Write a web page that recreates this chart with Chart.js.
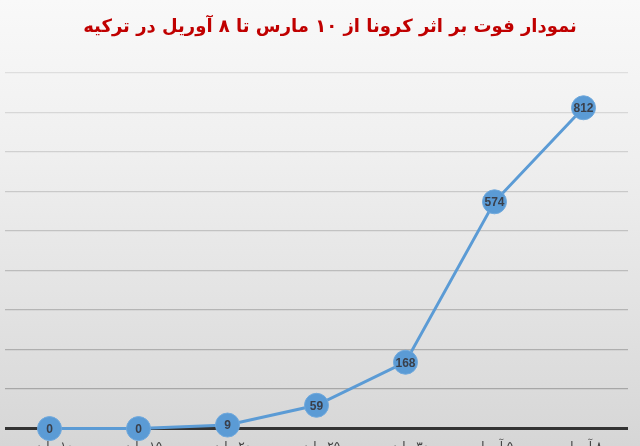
<!DOCTYPE html>
<html>
<head>
<meta charset="utf-8">
<script src="https://cdn.jsdelivr.net/npm/chart.js@4/dist/chart.umd.min.js"></script>
<style>
html,body{margin:0;padding:0;width:640px;height:446px;overflow:hidden;
background:linear-gradient(to bottom,#f9f9f9 0%,#efefef 35%,#e2e2e2 70%,#d6d6d6 100%);}
#wrap{position:absolute;left:0;top:0;width:640px;height:465px;}
</style>
</head>
<body>
<div id="wrap"><canvas id="c" dir="rtl"></canvas></div>
<script>
const titleText = 'نمودار فوت بر اثر کرونا از ۱۰ مارس تا ۸ آوریل در ترکیه';
const categories = ['۱۰ مارس','۱۵ مارس','۲۰ مارس','۲۵ مارس','۳۰ مارس','۵ آوریل','۸ آوریل'];
const deaths = [0, 0, 9, 59, 168, 574, 812];
const yMin = 0, yMax = 900, yStep = 100;

const titlePlugin = {
  id: 'titlePlugin',
  afterDraw(chart) {
    const ctx = chart.ctx;
    ctx.save();
    ctx.font = 'bold 18px "DejaVu Sans", sans-serif';
    ctx.fillStyle = '#c00000';
    ctx.textAlign = 'center';
    ctx.textBaseline = 'middle';
    ctx.fillText(titleText, 330, 27);
    ctx.restore();
  }
};

const valueLabels = {
  id: 'valueLabels',
  afterDatasetsDraw(chart) {
    const ctx = chart.ctx;
    const meta = chart.getDatasetMeta(0);
    ctx.save();
    ctx.font = 'bold 12px "Liberation Sans", Arial, sans-serif';
    ctx.fillStyle = '#3a3f4a';
    ctx.textAlign = 'center';
    ctx.textBaseline = 'middle';
    ctx.direction = 'ltr';
    meta.data.forEach((pt, i) => {
      ctx.fillText(String(deaths[i]), pt.x, pt.y + 1);
    });
    ctx.restore();
  }
};

new Chart(document.getElementById('c'), {
  type: 'line',
  data: {
    labels: categories,
    datasets: [{
      data: deaths,
      borderColor: '#5b9bd5',
      borderWidth: 3,
      backgroundColor: '#5b9bd5',
      pointBackgroundColor: '#5b9bd5',
      pointBorderColor: '#6fa8dc',
      pointBorderWidth: 1,
      pointRadius: 12,
      pointHoverRadius: 12,
      tension: 0,
      clip: false
    }]
  },
  options: {
    responsive: true,
    maintainAspectRatio: false,
    animation: false,
    layout: { autoPadding: false, padding: { left: 5, right: 12, top: 73, bottom: 0 } },
    plugins: {
      legend: { display: false },
      tooltip: { enabled: false },
      title: { display: false }
    },
    scales: {
      x: {
        offset: true,
        afterFit: (s) => { s.paddingLeft = 0; s.paddingRight = 0; },
        grid: { display: false, drawTicks: false },
        border: { display: false },
        ticks: {
          color: '#404040',
          font: { family: '"DejaVu Sans", sans-serif', size: 12 },
          padding: 11,
          maxRotation: 0,
          autoSkip: false
        }
      },
      y: {
        min: yMin,
        max: yMax,
        afterFit: (s) => { s.width = 0; s.paddingTop = 0; s.paddingBottom = 0; },
        ticks: { display: false, stepSize: yStep },
        border: { display: false },
        grid: {
          drawTicks: false,
          color: (c) => {
            const v = c.tick.value;
            if (v === 0) return '#333333';
            const g = Math.round(160 + (v / yMax) * 62);
            return 'rgb(' + g + ',' + g + ',' + g + ')';
          },
          lineWidth: (c) => c.tick.value === 0 ? 3 : 1.2
        }
      }
    }
  },
  plugins: [valueLabels, titlePlugin]
});
</script>
</body>
</html>
